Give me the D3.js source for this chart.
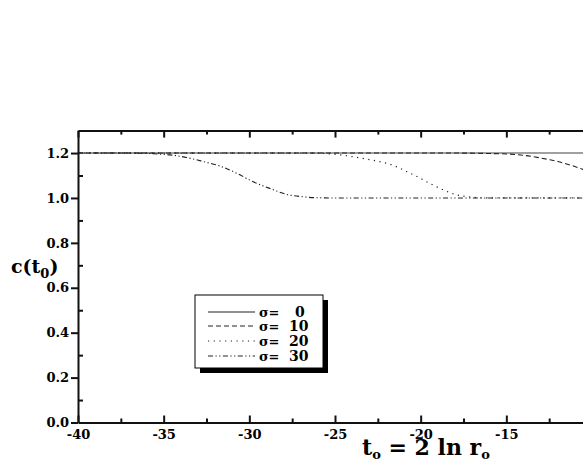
<!DOCTYPE html>
<html>
<head>
<meta charset="utf-8">
<script src="https://cdn.jsdelivr.net/npm/d3@7"></script>
<style>
  body { margin: 0; background: white; }
  svg { display: block; }
  .lab { font-family: "DejaVu Serif", serif; font-weight: bold; }
</style>
</head>
<body>
<div id="wykres"></div>
<script>
// c(t0) for each sigma
var t_s0 = [-40, -10];
var c_s0 = [1.2, 1.2];

var t_s10 = [-40, -18, -16, -15, -14, -13, -12.45, -12, -11, -10.5, -10];
var c_s10 = [1.2, 1.2, 1.198, 1.196, 1.19, 1.178, 1.17, 1.162, 1.14, 1.127, 1.115];

var t_s20 = [-40, -26.5, -25.9, -24.9, -23.9, -23.15, -22.4, -21.7, -21.2, -20.8, -20.4, -20.0, -19.65, -19.26, -18.87, -18.4, -18.0, -17.6, -17.1, -16.5, -16, -10];
var c_s20 = [1.2, 1.2, 1.199, 1.194, 1.183, 1.173, 1.162, 1.148, 1.132, 1.117, 1.102, 1.087, 1.072, 1.057, 1.042, 1.027, 1.016, 1.009, 1.004, 1.001, 1.0, 1.0];

var t_s30 = [-40, -37, -36, -35.6, -34.63, -33.65, -32.68, -31.71, -30.74, -29.77, -28.79, -27.82, -26.85, -26.07, -25, -10];
var c_s30 = [1.2, 1.2, 1.199, 1.197, 1.192, 1.18, 1.162, 1.142, 1.11, 1.072, 1.042, 1.016, 1.005, 1.001, 1.0, 1.0];

var sigmy = ["0", "10", "20", "30"];
var xTicks = [-40, -35, -30, -25, -20, -15, -10];
var xMinor = [-37.5, -32.5, -27.5, -22.5, -17.5, -12.5];
var yTicks = [0.0, 0.2, 0.4, 0.6, 0.8, 1.0, 1.2];
var yMinor = [0.1, 0.3, 0.5, 0.7, 0.9, 1.1];

var serie = [
  { t: t_s0, c: c_s0, dash: null, kolor: "#808080", w: 1.6 },
  { t: t_s10, c: c_s10, dash: "5,3", kolor: "#222", w: 1.1 },
  { t: t_s20, c: c_s20, dash: "1.2,4.5", kolor: "#222", w: 1.2 },
  { t: t_s30, c: c_s30, dash: "5,2.5,1.2,2.5,1.2,2.5", kolor: "#222", w: 1.1 }
];

var svg = d3.select("#wykres")
  .append("svg")
  .attr("width", 583)
  .attr("height", 463)
  .style("background", "white");

var xscale = d3.scaleLinear().domain([-40, -10]).range([78, 592]);
var yscale = d3.scaleLinear().domain([0, 1.3]).range([422.5, 130.6]);

var line = d3.line()
  .x(function (d) { return xscale(d[0]) })
  .y(function (d) { return yscale(d[1]) })
  .curve(d3.curveMonotoneX);

serie.forEach(function (s) {
  svg.append("path")
    .datum(d3.zip(s.t, s.c))
    .attr("d", line)
    .attr("fill", "none")
    .attr("stroke", s.kolor)
    .attr("stroke-width", s.w)
    .attr("stroke-dasharray", s.dash);
});

var formatX = function (d) { return d === -10 ? "" : String(d); };

// axes
var xBottom = svg.append("g")
  .attr("class", "lab")
  .attr("transform", "translate(0," + yscale(0) + ")")
  .call(d3.axisBottom(xscale).tickValues(xTicks).tickSizeInner(-7).tickSizeOuter(0).tickPadding(7)
    .tickFormat(formatX));
xBottom.selectAll("text").style("font-size", "13px");

svg.append("g")
  .attr("transform", "translate(0," + yscale(0) + ")")
  .call(d3.axisBottom(xscale).tickValues(xMinor).tickSizeInner(-4).tickSizeOuter(0).tickFormat(""))
  .select(".domain").remove();

svg.append("g")
  .attr("transform", "translate(0," + yscale(1.3) + ")")
  .call(d3.axisTop(xscale).tickValues(xTicks).tickSizeInner(-7).tickSizeOuter(0).tickFormat(""));

svg.append("g")
  .attr("transform", "translate(0," + yscale(1.3) + ")")
  .call(d3.axisTop(xscale).tickValues(xMinor).tickSizeInner(-4).tickSizeOuter(0).tickFormat(""))
  .select(".domain").remove();

var yLeft = svg.append("g")
  .attr("class", "lab")
  .attr("transform", "translate(" + xscale(-40) + ",0)")
  .call(d3.axisLeft(yscale).tickValues(yTicks).tickSizeInner(7).tickSizeOuter(0).tickPadding(2)
    .tickFormat(d3.format(".1f")));
yLeft.selectAll("text").style("font-size", "13px");

svg.append("g")
  .attr("transform", "translate(" + xscale(-40) + ",0)")
  .call(d3.axisLeft(yscale).tickValues(yMinor).tickSizeInner(-5).tickSizeOuter(0).tickFormat(""))
  .select(".domain").remove();

svg.append("g")
  .attr("transform", "translate(" + xscale(-10) + ",0)")
  .call(d3.axisRight(yscale).tickValues(yTicks).tickSizeInner(-7).tickSizeOuter(0).tickFormat(""));

svg.selectAll(".domain").attr("stroke", "#111").attr("stroke-width", 2);
svg.selectAll(".tick line").attr("stroke", "#111").attr("stroke-width", 2);

// axis titles
var yt = svg.append("text")
  .attr("class", "lab")
  .attr("x", 11)
  .attr("y", 273)
  .style("font-size", "19px");
yt.append("tspan").text("c(t");
yt.append("tspan").attr("dy", 5).style("font-size", "13px").text("0");
yt.append("tspan").attr("dy", -5).text(")");

var xt = svg.append("text")
  .attr("class", "lab")
  .attr("x", 362)
  .attr("y", 455)
  .style("font-size", "22px");
xt.append("tspan").text("t");
xt.append("tspan").attr("dy", 4).style("font-size", "13px").text("o");
xt.append("tspan").attr("dy", -4).text(" = 2 ln r");
xt.append("tspan").attr("dy", 4).style("font-size", "13px").text("o");

// legend
var leg = svg.append("g");
leg.append("rect")
  .attr("x", 200).attr("y", 300).attr("width", 128).attr("height", 73)
  .attr("fill", "black");
leg.append("rect")
  .attr("x", 195).attr("y", 295).attr("width", 128).attr("height", 73)
  .attr("fill", "white").attr("stroke", "black").attr("stroke-width", 1);

var legY = [312, 326, 341, 356];
serie.forEach(function (s, i) {
  var y = legY[i];
  leg.append("line")
    .attr("x1", 208).attr("x2", 255).attr("y1", y).attr("y2", y)
    .attr("stroke", "#222")
    .attr("stroke-width", 1.1)
    .attr("stroke-dasharray", s.dash);
  leg.append("text")
    .attr("class", "lab")
    .attr("x", 259).attr("y", y + 5)
    .style("font-size", "13px")
    .text("σ=");
  leg.append("text")
    .attr("class", "lab")
    .attr("x", sigmy[i].length === 1 ? 295 : 289).attr("y", y + 5)
    .style("font-size", "14px")
    .text(sigmy[i]);
});
</script>
</body>
</html>
